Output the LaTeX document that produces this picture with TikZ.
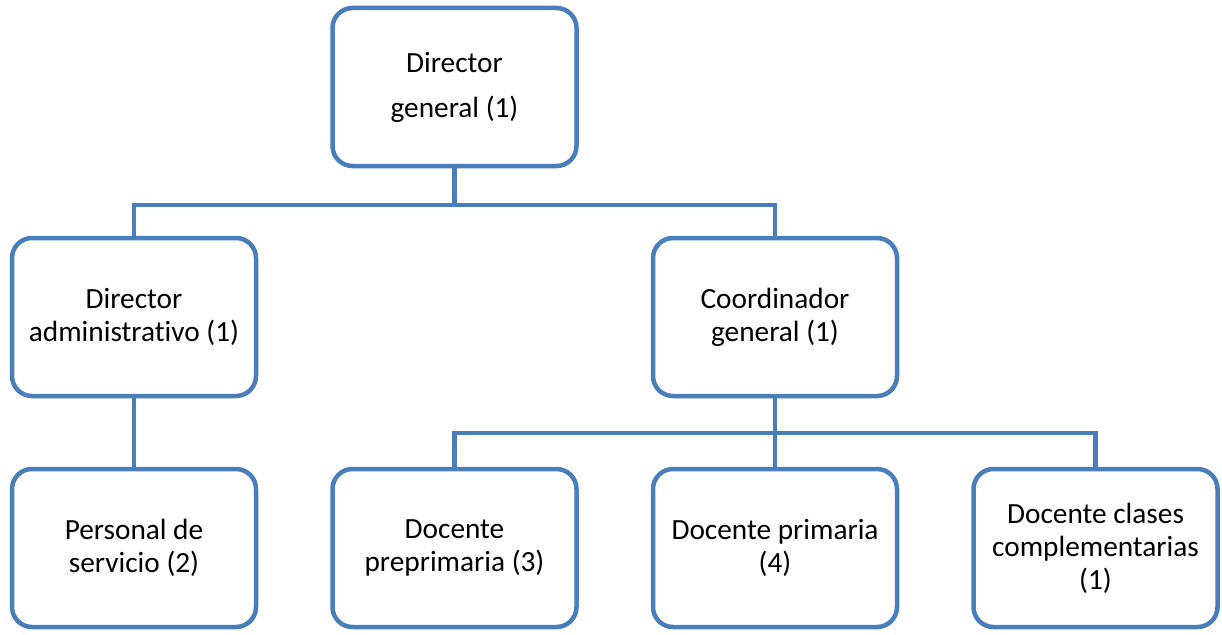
\documentclass[tikz,border=0pt]{standalone}
\usepackage{fontspec}
\setmainfont[RawFeature=-liga]{Carlito}
\definecolor{boxblue}{RGB}{74,126,187}
\begin{document}
\begin{tikzpicture}[x=1pt,y=-1pt,
  box/.style={draw=boxblue, line width=4.5pt, rounded corners=20pt, fill=white,
    minimum width=244pt, minimum height=158pt, align=center, inner sep=0pt,
    font=\fontsize{29.3}{33}\selectfont},
  link/.style={draw=boxblue, line width=4.5pt}]
\useasboundingbox (0,0) rectangle (1222,634);
\coordinate (bus1) at (0,205);
\coordinate (bus2) at (0,433);
\node[box, font=\fontsize{29.3}{45}\selectfont] (top) at (454.5,87) {Director\\general (1)};
\node[box] (admin) at (134,317) {Director\\administrativo (1)};
\node[box] (coord) at (775,317) {Coordinador\\general (1)};
\node[box] (pers) at (134,548) {Personal de\\servicio (2)};
\node[box] (pre) at (454.5,548) {Docente\\preprimaria (3)};
\node[box] (prim) at (775,548) {Docente primaria\\(4)};
\node[box] (comp) at (1095.5,548) {Docente clases\\complementarias\\(1)};
\draw[link] (top.south) -- (top.south |- bus1);
\draw[link] (top.south |- bus1) -| (admin.north);
\draw[link] (top.south |- bus1) -| (coord.north);
\draw[link] (admin.south) -- (pers.north);
\draw[link] (coord.south) -- (coord.south |- bus2);
\draw[link] (coord.south |- bus2) -| (pre.north);
\draw[link] (coord.south |- bus2) -| (comp.north);
\draw[link] (coord.south |- bus2) -- (prim.north);
\end{tikzpicture}
\end{document}
